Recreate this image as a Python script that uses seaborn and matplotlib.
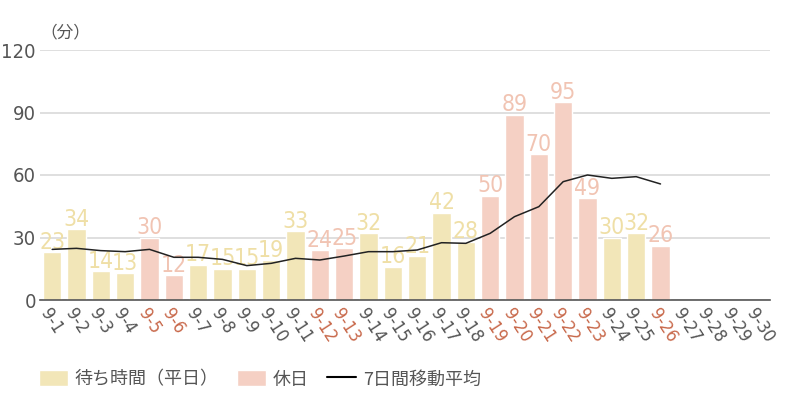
import pandas as pd
import matplotlib.pyplot as plt
import seaborn as sns
from matplotlib.patches import Patch
from matplotlib.lines import Line2D

# データ
dias = [f"9-{d}" for d in range(1, 31)]
espera = [23, 34, 14, 13, 30, 12, 17, 15, 15, 19, 33, 24, 25, 32, 16,
          21, 42, 28, 50, 89, 70, 95, 49, 30, 32, 26]
festivo = [5, 6, 12, 13, 19, 20, 21, 22, 23, 26]
media_movil = [24.3, 24.8, 23.7, 23.2, 24.3, 20.5, 20.5, 19.5, 16.5, 17.6,
               20.0, 19.2, 21.1, 23.2, 23.2, 24.0, 27.5, 27.2, 32.0, 40.0,
               44.8, 56.8, 60.0, 58.4, 59.2, 55.7]

tipo = ["休日" if i + 1 in festivo else "平日" for i in range(len(espera))]
df = pd.DataFrame({"dia": dias[:len(espera)], "espera": espera, "tipo": tipo})

col_w = "#f2e6b8"
col_h = "#f5d0c4"
txt_w = "#efdfa6"
txt_h = "#f1c4b3"

sns.set_style("white")
plt.rcParams['font.family'] = ['DejaVu Sans', 'Noto Sans CJK JP']

fig = plt.figure(figsize=(8, 4), dpi=100)
ax = fig.add_axes([0.05, 0.25, 0.9125, 0.625])

sns.barplot(data=df, x="dia", y="espera", hue="tipo", order=dias,
            palette={"平日": col_w, "休日": col_h}, dodge=False, saturation=1,
            width=0.74, legend=False, ax=ax)

# etiquetas de valor
for i, v in enumerate(espera):
    c = txt_h if tipo[i] == "休日" else txt_w
    ax.text(i, v - 0.8, str(v), ha='center', va='bottom', fontsize=16.5,
            color=c, clip_on=False, zorder=1, family='DejaVu Sans',
            fontstretch='condensed')

ax.plot(range(len(media_movil)), media_movil, color='#222222', lw=1.1, zorder=5)

ax.set_xlim(-0.5, 29.5)
ax.set_ylim(0, 120)
ax.set_yticks([0, 30, 60, 90, 120])
ax.yaxis.grid(True, color='#d9d9d9', lw=1.2)
ax.set_axisbelow(True)
for s in ['top', 'right', 'left']:
    ax.spines[s].set_visible(False)
ax.spines['bottom'].set_color('#555555')
ax.spines['bottom'].set_linewidth(1.2)
ax.tick_params(axis='y', length=0, labelsize=14.5, labelcolor='#555555', pad=3)
ax.tick_params(axis='x', length=0, labelsize=13, pad=4)
ax.set_xlabel("")
ax.set_ylabel("")
for lab in ax.get_yticklabels():
    lab.set_fontstretch('condensed')

ax.set_xticks(range(30))
ax.set_xticklabels(dias, rotation=-57, ha='left', rotation_mode='anchor')
for i, lab in enumerate(ax.get_xticklabels()):
    lab.set_color("#c8684a" if i + 1 in festivo else "#555555")
    lab.set_fontstretch('condensed')

ax.text(0.0, 1.035, "（分）", transform=ax.transAxes, fontsize=12,
        color='#555555', ha='left', va='bottom', family=['Noto Sans CJK JP', 'DejaVu Sans'])

handles = [Patch(facecolor=col_w, label="待ち時間（平日）"),
           Patch(facecolor=col_h, label="休日"),
           Line2D([0], [0], color='black', lw=1.5, label="7日間移動平均")]
leg = fig.legend(handles=handles, loc='lower left', bbox_to_anchor=(0.028, -0.012),
                 ncol=3, frameon=False, handlelength=1.6, handleheight=1.0,
                 columnspacing=1.0, handletextpad=0.4,
                 prop={'family': 'Noto Sans CJK JP', 'size': 13})
for t in leg.get_texts():
    t.set_color('#555555')

fig.savefig("out.png", dpi=100)
